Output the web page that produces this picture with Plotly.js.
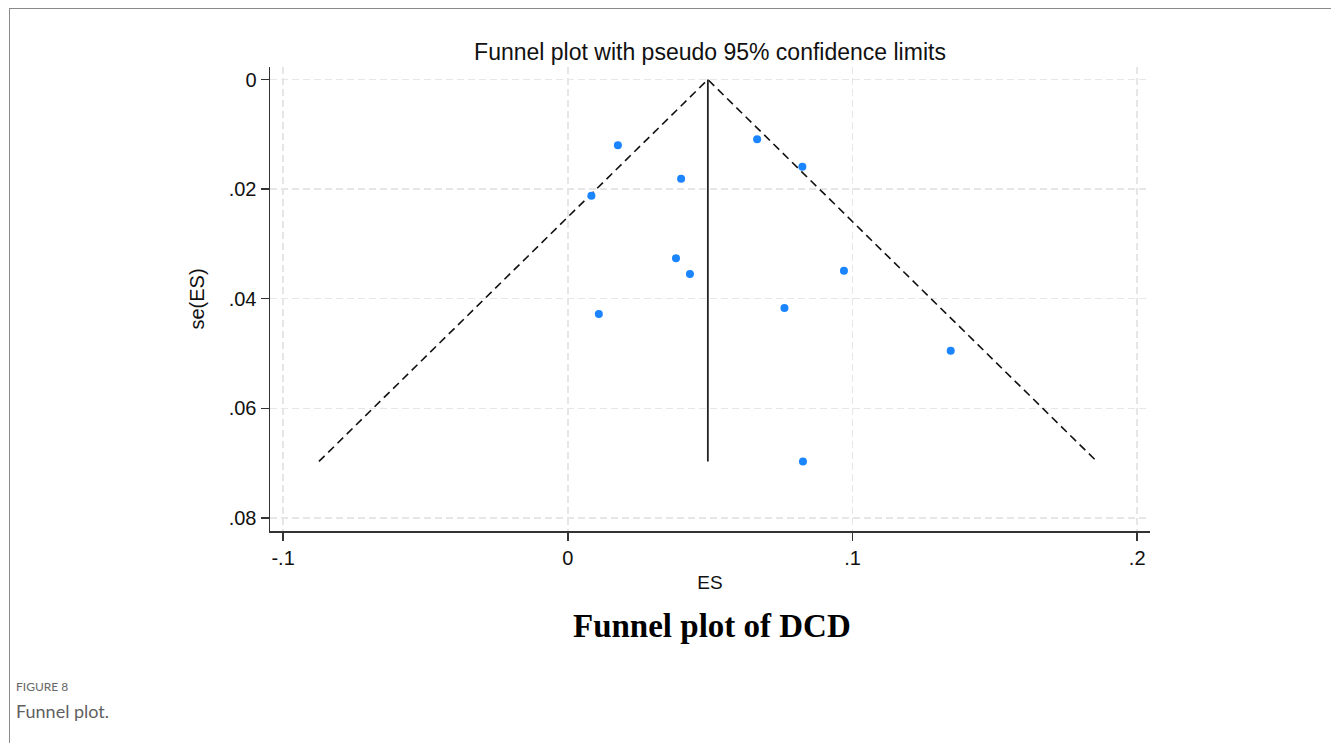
<!DOCTYPE html>
<html>
<head>
<meta charset="utf-8">
<script src="https://cdn.plot.ly/plotly-3.0.1.min.js"></script>
<style>
  html, body { margin: 0; padding: 0; background: #ffffff; }
  #wrap { position: relative; width: 1331px; height: 743px; overflow: hidden; }
  #chart { position: absolute; left: 0; top: 0; width: 1331px; height: 743px; }
  #frame { position: absolute; left: 9px; top: 8px; width: 1340px; height: 760px;
           border-top: 1.5px solid #8a8a8a; border-left: 1.5px solid #8a8a8a; pointer-events: none; }
</style>
</head>
<body>
<div id="wrap">
  <div id="chart"></div>
  <div id="frame"></div>
</div>
<script>
// Study effect sizes (ES) and their standard errors se(ES)
const es   = [0.0176, 0.0083, 0.0398, 0.0380, 0.0429, 0.0109, 0.0665, 0.0824, 0.0970, 0.0761, 0.1345, 0.0826];
const seES = [0.0120, 0.0212, 0.0181, 0.0326, 0.0355, 0.0428, 0.0109, 0.0159, 0.0349, 0.0417, 0.0495, 0.0697];

// Pooled estimate and the largest standard error (funnel depth)
const pooledES = 0.0492;
const seMax = 0.0697;
const z95 = 1.96;

// Tick labels
const xTickVals = [-0.1, 0, 0.1, 0.2];
const xTickText = ['-.1', '0', '.1', '.2'];
const yTickVals = [0, 0.02, 0.04, 0.06, 0.08];
const yTickText = ['0', '.02', '.04', '.06', '.08'];

const funnelX = [pooledES - z95 * seMax, pooledES, pooledES + z95 * seMax];
const funnelY = [seMax, 0, seMax];

const traces = [
  {
    x: funnelX, y: funnelY, type: 'scatter', mode: 'lines',
    line: { color: '#111111', width: 1.6, dash: '8px,5px' },
    hoverinfo: 'skip', showlegend: false
  },
  {
    x: [pooledES, pooledES], y: [0, seMax], type: 'scatter', mode: 'lines',
    line: { color: '#222222', width: 1.8 },
    hoverinfo: 'skip', showlegend: false
  },
  {
    x: es, y: seES, type: 'scatter', mode: 'markers',
    marker: { color: '#1a85ff', size: 8 },
    showlegend: false
  }
];

const font = 'Liberation Sans, Arial, Helvetica, sans-serif';
const gridColor = '#e6e6e6';

const layout = {
  width: 1331, height: 743,
  paper_bgcolor: 'rgba(0,0,0,0)',
  plot_bgcolor: '#ffffff',
  margin: { l: 270, r: 181, t: 67, b: 212, pad: 0 },
  font: { family: font, color: '#111111', size: 20 },
  title: {
    text: 'Funnel plot with pseudo 95% confidence limits',
    font: { family: font, size: 23, color: '#111111' },
    x: 0.5, xref: 'paper', xanchor: 'center',
    y: 1 - 52 / 743, yref: 'container', yanchor: 'middle'
  },
  xaxis: {
    range: [-0.1046, 0.2045],
    tickvals: xTickVals, ticktext: xTickText,
    showline: true, linecolor: '#333333', linewidth: 1.5,
    ticks: 'outside', ticklen: 8, tickwidth: 1.5, tickcolor: '#333333',
    showgrid: true, gridcolor: gridColor, gridwidth: 1.5, griddash: '7px,4px',
    zeroline: false,
    tickfont: { family: font, size: 20, color: '#111111' },
    title: { text: 'ES', font: { family: font, size: 19, color: '#111111' }, standoff: 8 }
  },
  yaxis: {
    range: [0.0824, -0.0023],
    tickvals: yTickVals, ticktext: yTickText,
    showline: true, linecolor: '#333333', linewidth: 1.5,
    ticks: 'outside', ticklen: 8, tickwidth: 1.5, tickcolor: '#333333',
    showgrid: true, gridcolor: gridColor, gridwidth: 1.5, griddash: '7px,4px',
    zeroline: false,
    tickfont: { family: font, size: 20, color: '#111111' },
    title: { text: 'se(ES)', font: { family: font, size: 20, color: '#111111' }, standoff: 18 }
  },
  annotations: [
    {
      text: '<b>Funnel plot of DCD</b>', xref: 'paper', yref: 'paper',
      x: (712 - 270) / 880, y: (531 - 626) / 464, xanchor: 'center', yanchor: 'middle',
      showarrow: false,
      font: { family: 'Liberation Serif, Times New Roman, serif', size: 33, color: '#000000' }
    },
    {
      text: 'FIGURE 8', xref: 'paper', yref: 'paper',
      x: (14 - 270) / 880, y: (531 - 686) / 464, xanchor: 'left', yanchor: 'middle',
      showarrow: false,
      font: { family: 'Lato, Open Sans, sans-serif', size: 12, color: '#666666' }
    },
    {
      text: 'Funnel plot.', xref: 'paper', yref: 'paper',
      x: (14 - 270) / 880, y: (531 - 711) / 464, xanchor: 'left', yanchor: 'middle',
      showarrow: false,
      font: { family: 'Lato, Open Sans, sans-serif', size: 18, color: '#5f5f5f' }
    }
  ]
};

Plotly.newPlot('chart', traces, layout, { displayModeBar: false, staticPlot: true });
</script>
</body>
</html>
